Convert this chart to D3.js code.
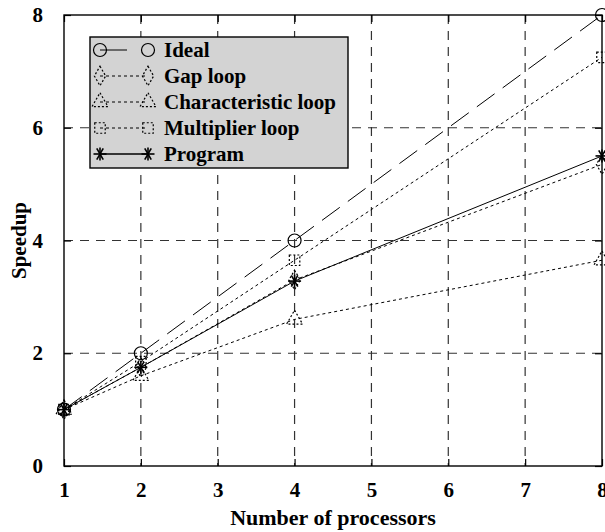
<!DOCTYPE html>
<html>
<head>
<meta charset="utf-8">
<script src="https://cdn.jsdelivr.net/npm/d3@7"></script>
<style>
  body { margin: 0; background: #fff; }
  text { font-family: "Liberation Serif", "Times New Roman", serif; font-weight: bold; }
</style>
</head>
<body>
<svg id="grafico" width="605" height="532"></svg>
<script>
const procesadores = [1, 2, 4, 8];
const ideal = [1, 2, 4, 8];
const gapLoop = [1, 1.75, 3.3, 5.35];
const charLoop = [1, 1.6, 2.6, 3.65];
const multLoop = [1, 1.85, 3.65, 7.25];
const programa = [1, 1.75, 3.28, 5.5];
const xTicks = [1, 2, 3, 4, 5, 6, 7, 8];
const yTicks = [0, 2, 4, 6, 8];

const series = [
  { nombre: "Ideal", valores: ideal, marca: "circle", dash: "22,10" },
  { nombre: "Gap loop", valores: gapLoop, marca: "diamond", dash: "3,3" },
  { nombre: "Characteristic loop", valores: charLoop, marca: "triangle", dash: "3,3" },
  { nombre: "Multiplier loop", valores: multLoop, marca: "square", dash: "3,3" },
  { nombre: "Program", valores: programa, marca: "star", dash: null }
];

const svg = d3.select("#grafico");
const m = { left: 64, right: 602, top: 15, bottom: 466 };

const x = d3.scaleLinear().domain([1, 8]).range([m.left, m.right]);
const y = d3.scaleLinear().domain([0, 8]).range([m.bottom, m.top]);

// rejilla
svg.append("g").selectAll("line")
  .data(xTicks.slice(1, -1))
  .join("line")
  .attr("x1", d => x(d)).attr("x2", d => x(d))
  .attr("y1", m.top).attr("y2", m.bottom)
  .attr("stroke", "#333").attr("stroke-width", 1.2).attr("stroke-dasharray", "9,7");

svg.append("g").selectAll("line")
  .data(yTicks.slice(1, -1))
  .join("line")
  .attr("x1", m.left).attr("x2", m.right)
  .attr("y1", d => y(d)).attr("y2", d => y(d))
  .attr("stroke", "#333").attr("stroke-width", 1.2).attr("stroke-dasharray", "9,7");

// ejes con marcas hacia dentro
const ejeAbajo = d3.axisBottom(x).tickValues(xTicks).tickSize(-7).tickFormat(d3.format("d")).tickPadding(16);
const ejeIzq = d3.axisLeft(y).tickValues(yTicks).tickSize(-7).tickFormat(d3.format("d")).tickPadding(21);
const ejeArriba = d3.axisTop(x).tickValues(xTicks).tickSize(-7).tickFormat("");
const ejeDer = d3.axisRight(y).tickValues(yTicks).tickSize(-7).tickFormat("");

function estilo(g) {
  g.select(".domain").remove();
  g.selectAll(".tick line").attr("stroke", "#000").attr("stroke-width", 1.2);
  g.selectAll("text").attr("font-size", 21).attr("fill", "#000");
}
svg.append("g").attr("transform", `translate(0,${m.bottom})`).call(ejeAbajo).call(estilo);
svg.append("g").attr("transform", `translate(${m.left},0)`).call(ejeIzq).call(estilo);
svg.append("g").attr("transform", `translate(0,${m.top})`).call(ejeArriba).call(estilo);
svg.append("g").attr("transform", `translate(${m.right},0)`).call(ejeDer).call(estilo);

svg.append("rect")
  .attr("x", m.left).attr("y", m.top)
  .attr("width", m.right - m.left).attr("height", m.bottom - m.top)
  .attr("fill", "none").attr("stroke", "#000").attr("stroke-width", 1.4);

function marca(g, tipo) {
  const s = 6.5;
  if (tipo === "circle") {
    g.append("circle").attr("r", s).attr("fill", "none").attr("stroke", "#000").attr("stroke-width", 1.2);
  } else if (tipo === "star") {
    [0, 60, 120].forEach(a => {
      const r = a * Math.PI / 180;
      g.append("line")
        .attr("x1", -s * Math.cos(r)).attr("y1", -s * Math.sin(r))
        .attr("x2", s * Math.cos(r)).attr("y2", s * Math.sin(r))
        .attr("stroke", "#000").attr("stroke-width", 1.6);
    });
    g.append("line").attr("x1", 0).attr("x2", 0).attr("y1", -s).attr("y2", s)
      .attr("stroke", "#000").attr("stroke-width", 1.6);
  } else {
    const sym = { diamond: d3.symbolDiamond, triangle: d3.symbolTriangle, square: d3.symbolSquare }[tipo];
    g.append("path").attr("d", d3.symbol(sym, 110)())
      .attr("fill", "none").attr("stroke", "#000").attr("stroke-width", 1.2).attr("stroke-dasharray", "2,2");
  }
}

const linea = d3.line().x((d, i) => x(procesadores[i])).y(d => y(d));

series.forEach(s => {
  svg.append("path")
    .attr("d", linea(s.valores))
    .attr("fill", "none").attr("stroke", "#000").attr("stroke-width", 1)
    .attr("stroke-dasharray", s.dash);
  s.valores.forEach((v, i) => {
    const g = svg.append("g").attr("transform", `translate(${x(procesadores[i])},${y(v)})`);
    marca(g, s.marca);
  });
});

// leyenda
const ley = svg.append("g");
ley.append("rect")
  .attr("x", 90).attr("y", 37).attr("width", 258).attr("height", 131)
  .attr("fill", "#d3d3d3").attr("stroke", "#000").attr("stroke-width", 1.4);

series.forEach((s, i) => {
  const yy = 50 + i * 26;
  ley.append("line").attr("x1", 100).attr("x2", 148).attr("y1", yy).attr("y2", yy)
    .attr("stroke", "#000").attr("stroke-width", s.dash ? 1 : 1.3)
    .attr("stroke-dasharray", s.dash === "22,10" ? "27,60" : s.dash);
  marca(ley.append("g").attr("transform", `translate(100,${yy})`), s.marca);
  marca(ley.append("g").attr("transform", `translate(148,${yy})`), s.marca);
  ley.append("text").attr("x", 164).attr("y", yy).attr("dy", "0.35em")
    .attr("font-size", 21).text(s.nombre);
});

svg.append("text")
  .attr("x", (m.left + m.right) / 2).attr("y", 525)
  .attr("text-anchor", "middle").attr("font-size", 22)
  .text("Number of processors");

svg.append("text")
  .attr("transform", `translate(26,${(m.top + m.bottom) / 2}) rotate(-90)`)
  .attr("text-anchor", "middle").attr("font-size", 21)
  .text("Speedup");
</script>
</body>
</html>
